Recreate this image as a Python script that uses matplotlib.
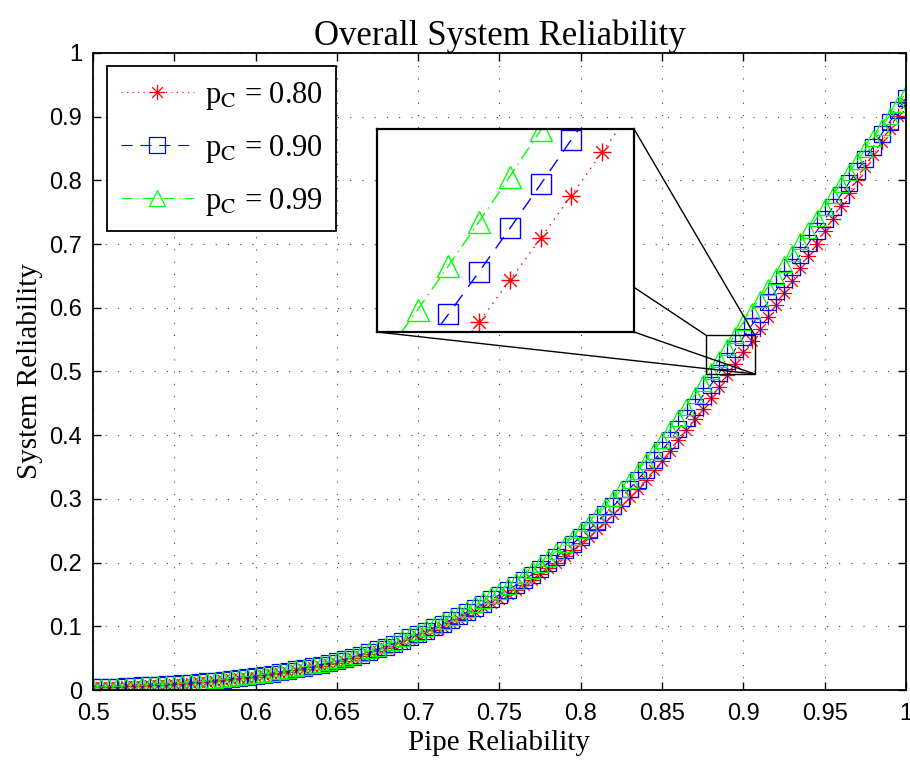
"""
Overall system reliability vs pipe reliability, three component reliabilities.
"""
import numpy as np
import matplotlib
matplotlib.use("Agg")
import matplotlib.pyplot as plt
from matplotlib.path import Path
from matplotlib.patches import Rectangle, ConnectionPatch

plt.rcParams['mathtext.fontset'] = 'stix'

# pipe reliability, sampled every 0.005
pipe_rel = np.linspace(0.5, 1.0, 101)

rel_pc080 = [
    0.0040, 0.0044, 0.0048, 0.0053, 0.0058, 0.0063, 0.0068, 0.0074, 0.0080, 0.0085,
    0.0090, 0.0099, 0.0109, 0.0119, 0.0130, 0.0142, 0.0155, 0.0168, 0.0182, 0.0196,
    0.0210, 0.0228, 0.0247, 0.0267, 0.0288, 0.0310, 0.0333, 0.0357, 0.0381, 0.0405,
    0.0430, 0.0462, 0.0496, 0.0532, 0.0570, 0.0610, 0.0652, 0.0696, 0.0742, 0.0790,
    0.0840, 0.0890, 0.0942, 0.0996, 0.1052, 0.1110, 0.1170, 0.1232, 0.1296, 0.1362,
    0.1430, 0.1500, 0.1574, 0.1652, 0.1734, 0.1820, 0.1908, 0.2000, 0.2096, 0.2196,
    0.2300, 0.2408, 0.2521, 0.2639, 0.2762, 0.2890, 0.3022, 0.3159, 0.3301, 0.3448,
    0.3600, 0.3758, 0.3918, 0.4081, 0.4247, 0.4416, 0.4587, 0.4761, 0.4938, 0.5118,
    0.5300, 0.5485, 0.5671, 0.5858, 0.6046, 0.6235, 0.6426, 0.6618, 0.6811, 0.7005,
    0.7200, 0.7400, 0.7600, 0.7800, 0.8001, 0.8203, 0.8405, 0.8608, 0.8812, 0.9016,
    0.9220,
]
rel_pc090 = [
    0.0042, 0.0046, 0.0050, 0.0055, 0.0061, 0.0066, 0.0071, 0.0077, 0.0084, 0.0089,
    0.0094, 0.0103, 0.0114, 0.0124, 0.0136, 0.0148, 0.0162, 0.0176, 0.0190, 0.0205,
    0.0219, 0.0238, 0.0258, 0.0279, 0.0301, 0.0324, 0.0348, 0.0373, 0.0398, 0.0423,
    0.0449, 0.0483, 0.0518, 0.0556, 0.0596, 0.0637, 0.0681, 0.0727, 0.0775, 0.0826,
    0.0878, 0.0930, 0.0984, 0.1041, 0.1099, 0.1160, 0.1223, 0.1287, 0.1354, 0.1423,
    0.1494, 0.1568, 0.1645, 0.1726, 0.1812, 0.1902, 0.1994, 0.2090, 0.2190, 0.2295,
    0.2404, 0.2516, 0.2634, 0.2758, 0.2886, 0.3020, 0.3158, 0.3301, 0.3450, 0.3603,
    0.3762, 0.3927, 0.4094, 0.4265, 0.4438, 0.4615, 0.4793, 0.4975, 0.5160, 0.5348,
    0.5539, 0.5721, 0.5904, 0.6086, 0.6270, 0.6453, 0.6644, 0.6830, 0.7015, 0.7201,
    0.7387, 0.7578, 0.7775, 0.7964, 0.8153, 0.8342, 0.8531, 0.8729, 0.8918, 0.9106,
    0.9294,
]
rel_pc099 = [
    0.0044, 0.0048, 0.0052, 0.0058, 0.0063, 0.0069, 0.0074, 0.0081, 0.0087, 0.0093,
    0.0098, 0.0108, 0.0119, 0.0130, 0.0142, 0.0155, 0.0169, 0.0183, 0.0198, 0.0214,
    0.0229, 0.0249, 0.0269, 0.0291, 0.0314, 0.0338, 0.0363, 0.0389, 0.0415, 0.0441,
    0.0469, 0.0504, 0.0541, 0.0580, 0.0621, 0.0665, 0.0711, 0.0759, 0.0809, 0.0861,
    0.0916, 0.0970, 0.1027, 0.1086, 0.1147, 0.1210, 0.1275, 0.1343, 0.1413, 0.1485,
    0.1559, 0.1635, 0.1716, 0.1801, 0.1890, 0.1984, 0.2080, 0.2180, 0.2285, 0.2394,
    0.2507, 0.2625, 0.2748, 0.2877, 0.3011, 0.3150, 0.3294, 0.3443, 0.3598, 0.3758,
    0.3924, 0.4096, 0.4271, 0.4448, 0.4629, 0.4813, 0.5000, 0.5189, 0.5382, 0.5579,
    0.5777, 0.5957, 0.6142, 0.6321, 0.6499, 0.6684, 0.6863, 0.7042, 0.7220, 0.7404,
    0.7582, 0.7763, 0.7950, 0.8128, 0.8305, 0.8490, 0.8666, 0.8840, 0.9015, 0.9196,
    0.9368,
]
labels = [r'p$_\mathrm{C}$ = 0.80', r'p$_\mathrm{C}$ = 0.90', r'p$_\mathrm{C}$ = 0.99']

x_ticks = [0.5, 0.55, 0.6, 0.65, 0.7, 0.75, 0.8, 0.85, 0.9, 0.95, 1.0]
x_ticklabels = ['0.5', '0.55', '0.6', '0.65', '0.7', '0.75', '0.8', '0.85', '0.9', '0.95', '1']
y_ticks = [0, 0.1, 0.2, 0.3, 0.4, 0.5, 0.6, 0.7, 0.8, 0.9, 1.0]
y_ticklabels = ['0', '0.1', '0.2', '0.3', '0.4', '0.5', '0.6', '0.7', '0.8', '0.9', '1']

# matlab style asterisk: plus + cross
asterisk = Path([(-1, 0), (1, 0), (0, -1), (0, 1),
                 (-0.7, -0.7), (0.7, 0.7), (-0.7, 0.7), (0.7, -0.7)],
                [Path.MOVETO, Path.LINETO] * 4)

styles = [
    dict(color='#ff0000', linestyle=(0, (1, 4)), marker=asterisk),
    dict(color='#0000ff', linestyle=(0, (10, 7)), marker='s'),
    dict(color='#00ff00', linestyle=(0, (10, 4, 1, 4)), marker='^'),
]
msizes = [11, 11, 12]
series = [rel_pc080, rel_pc090, rel_pc099]

serif = 'Liberation Serif'
sans = 'Liberation Sans'

fig = plt.figure(figsize=(9.1, 7.6), dpi=100)
ax = fig.add_axes([0.1022, 0.0921, 0.8934, 0.8382])

for ys, st, ms, lab in zip(series, styles, msizes, labels):
    ax.plot(pipe_rel, ys, lw=0.8, markersize=ms, markerfacecolor='none',
            markeredgewidth=0.9, label=lab, **st)

ax.set_xlim(0.5, 1.0)
ax.set_ylim(0, 1)
ax.set_xticks(x_ticks)
ax.set_xticklabels(x_ticklabels, fontfamily=sans, fontsize=17)
ax.set_yticks(y_ticks)
ax.set_yticklabels(y_ticklabels, fontfamily=sans, fontsize=17)
ax.tick_params(direction='in', top=True, right=True, length=6, width=1)
ax.tick_params(axis='x', pad=9)
ax.tick_params(axis='y', pad=8)
ax.grid(True, color='#404040', linestyle=(0, (1, 10)), linewidth=0.8)
for sp in ax.spines.values():
    sp.set_linewidth(1.3)

ax.set_title('Overall System Reliability', fontfamily=serif, fontsize=25, pad=6)
ax.set_xlabel('Pipe Reliability', fontfamily=serif, fontsize=21, labelpad=4)
ax.set_ylabel('System Reliability', fontfamily=serif, fontsize=21, labelpad=4)

leg = ax.legend(loc='upper left', bbox_to_anchor=(0.017, 0.979), borderaxespad=0,
                fancybox=False, framealpha=1, edgecolor='black', numpoints=1,
                handlelength=2.4, handletextpad=0.35, borderpad=0.45,
                labelspacing=0.68, prop={'family': serif, 'size': 22})
leg.get_frame().set_linewidth(1.3)

# zoom box on the main axes
zx0, zx1, zy0, zy1 = 0.877, 0.907, 0.496, 0.557
ax.add_patch(Rectangle((zx0, zy0), zx1 - zx0, zy1 - zy0, fill=False,
                       edgecolor='black', linewidth=1.0, zorder=5))

# magnified inset
axins = fig.add_axes([0.4143, 0.5632, 0.2824, 0.2671])
for ys, st, ms in zip(series, styles, [13, 14, 16]):
    axins.plot(pipe_rel, ys, lw=1.0, markersize=ms, markerfacecolor='none',
               markeredgewidth=1.0, **st)
axins.set_xlim(0.8684, 0.9102)
axins.set_ylim(0.4718, 0.5585)
axins.set_xticks([])
axins.set_yticks([])
for sp in axins.spines.values():
    sp.set_linewidth(1.6)

links = [((1, 1), (zx1, zy1)), ((1, 0.22), (zx0, zy1)),
         ((1, 0), (zx1, zy0)), ((0, 0), (zx1, zy0))]
for pa, pb in links:
    con = ConnectionPatch(xyA=pa, coordsA=axins.transAxes, xyB=pb, coordsB=ax.transData,
                          color='black', linewidth=1.0)
    fig.add_artist(con)

fig.savefig('out.png', dpi=100)
